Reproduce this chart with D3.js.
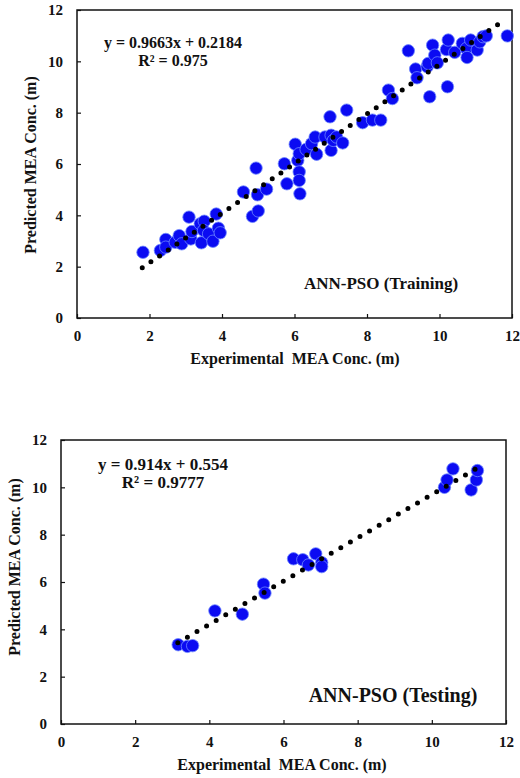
<!DOCTYPE html>
<html>
<head>
<meta charset="utf-8">
<script src="https://cdn.jsdelivr.net/npm/d3@7"></script>
<style>
  body { margin: 0; background: #fff; }
  text { font-family: "Liberation Serif", "Times New Roman", serif; font-weight: bold; fill: #111; }
</style>
</head>
<body>
<svg id="chart" width="520" height="778"></svg>
<script>
// training set (experimental, predicted)
var trainExp  = [1.82,2.30,2.45,2.45,2.71,2.82,2.89,3.09,3.14,3.17,3.40,3.51,3.43,3.49,3.63,3.75,3.84,3.90,3.95,
                 4.59,4.84,4.94,4.98,5.00,5.23,5.72,5.79,6.02,6.09,6.13,6.13,6.13,6.15,6.32,6.47,6.57,6.61,6.84,
                 6.98,7.01,7.01,7.07,7.16,7.33,7.44,7.88,8.15,8.38,8.59,8.70,9.14,9.34,9.38,9.66,9.73,9.69,9.81,
                 9.87,9.94,10.19,10.24,10.22,10.42,10.63,10.74,10.76,10.86,11.04,11.11,11.20,11.29,11.87];
var trainPred = [2.56,2.63,3.06,2.76,2.95,3.21,2.89,3.93,3.08,3.37,3.67,3.77,2.93,3.41,3.28,2.99,4.05,3.50,3.32,
                 4.91,3.96,5.84,4.80,4.17,5.02,6.01,5.23,6.77,6.14,6.40,5.69,5.36,4.84,6.57,6.79,7.05,6.38,7.05,
                 7.84,7.12,6.53,6.92,7.05,6.82,8.10,7.61,7.71,7.71,8.88,8.55,10.41,9.70,9.36,9.79,8.62,9.92,10.63,
                 10.24,9.94,10.46,10.83,9.01,10.35,10.70,10.50,10.15,10.83,10.44,10.76,10.96,10.99,10.99];
var trainFit = { slope: 0.9663, intercept: 0.2184, from: 1.8, to: 11.65 };

// testing set
var testExp  = [3.16,3.41,3.55,4.15,4.89,5.46,5.50,6.27,6.52,6.67,6.87,7.03,7.03,10.34,10.41,10.57,11.06,11.20,11.23];
var testPred = [3.35,3.28,3.31,4.78,4.64,5.91,5.53,6.98,6.94,6.72,7.19,6.82,6.65,10.00,10.31,10.78,9.89,10.31,10.71];
var testFit = { slope: 0.914, intercept: 0.554, from: 3.15, to: 11.25 };

var axisTicks = [0, 2, 4, 6, 8, 10, 12];
var xTitle = 'Experimental  MEA Conc. (m)';
var yTitle = 'Predicted MEA Conc. (m)';

var svg = d3.select('#chart');

function drawPanel(opt) {
	var g = svg.append('g');
	var x = d3.scaleLinear().domain([0, 12]).range([opt.left, opt.right]);
	var y = d3.scaleLinear().domain([0, 12]).range([opt.bottom, opt.top]);

	// inner ticks
	g.append('g').attr('transform', 'translate(0,' + opt.bottom + ')')
		.call(d3.axisBottom(x).tickValues(axisTicks).tickSizeInner(-4).tickSizeOuter(0).tickPadding(opt.xPad))
		.call(function (a) { a.select('.domain').remove(); a.selectAll('text').style('font-size', opt.tickFont + 'px'); });
	g.append('g').attr('transform', 'translate(' + opt.left + ',0)')
		.call(d3.axisLeft(y).tickValues(axisTicks).tickSizeInner(-4).tickSizeOuter(0).tickPadding(opt.yPad))
		.call(function (a) { a.select('.domain').remove(); a.selectAll('text').style('font-size', opt.tickFont + 'px'); });
	g.selectAll('.tick line').attr('stroke', '#111').attr('stroke-width', 1.2);

	g.append('rect')
		.attr('x', opt.left).attr('y', opt.top)
		.attr('width', opt.right - opt.left).attr('height', opt.bottom - opt.top)
		.style('fill', 'none').style('stroke', '#111').style('stroke-width', 1.5);

	g.append('g').selectAll('circle').data(opt.exp).enter().append('circle')
		.attr('cx', function (d) { return x(d); })
		.attr('cy', function (d, i) { return y(opt.pred[i]); })
		.attr('r', 6.2)
		.style('fill', '#0b0bf2')
		.style('stroke', '#6d86ff')
		.style('stroke-width', 0.8);

	var fit = opt.fit;
	var line = d3.line().x(function (d) { return x(d); })
		.y(function (d) { return y(fit.slope * d + fit.intercept); });
	g.append('path').datum([fit.from, fit.to]).attr('d', line)
		.style('fill', 'none').style('stroke', '#000').style('stroke-width', 5)
		.style('stroke-linecap', 'round').style('stroke-dasharray', '0 ' + opt.dotGap);

	g.append('text').attr('x', opt.eqX).attr('y', opt.eqY).attr('text-anchor', 'middle')
		.style('font-size', opt.eqFont + 'px')
		.text('y = ' + fit.slope + 'x + ' + fit.intercept);
	g.append('text').attr('x', opt.eqX).attr('y', opt.eqY + 18).attr('text-anchor', 'middle')
		.style('font-size', opt.eqFont + 'px')
		.text('R² = ' + opt.r2);

	g.append('text').attr('x', opt.labelX).attr('y', opt.labelY).attr('text-anchor', 'middle')
		.style('font-size', opt.labelFont + 'px').text(opt.label);

	g.append('text').attr('x', opt.xTitleX).attr('y', opt.bottom + 46)
		.attr('text-anchor', 'middle').style('font-size', '16px')
		.style('white-space', 'pre').attr('xml:space', 'preserve').text(xTitle);
	g.append('text').attr('transform', 'translate(' + opt.yTitleX + ',' + opt.yTitleY + ') rotate(-90)')
		.attr('text-anchor', 'middle').style('font-size', '16px').text(yTitle);
}

drawPanel({
	left: 77, right: 512, top: 10, bottom: 318,
	exp: trainExp, pred: trainPred, fit: trainFit, r2: '0.975',
	dotGap: 10.5, tickFont: 15, xPad: 12, yPad: 14,
	eqX: 173, eqY: 48, eqFont: 16,
	label: 'ANN-PSO (Training)', labelX: 381, labelY: 289, labelFont: 17,
	xTitleX: 295, yTitleX: 36, yTitleY: 165
});

drawPanel({
	left: 61, right: 506, top: 440, bottom: 724,
	exp: testExp, pred: testPred, fit: testFit, r2: '0.9777',
	dotGap: 11.1, tickFont: 15, xPad: 12, yPad: 14,
	eqX: 163, eqY: 470, eqFont: 17,
	label: 'ANN-PSO (Testing)', labelX: 393, labelY: 702, labelFont: 20,
	xTitleX: 282, yTitleX: 20, yTitleY: 567
});
</script>
</body>
</html>
